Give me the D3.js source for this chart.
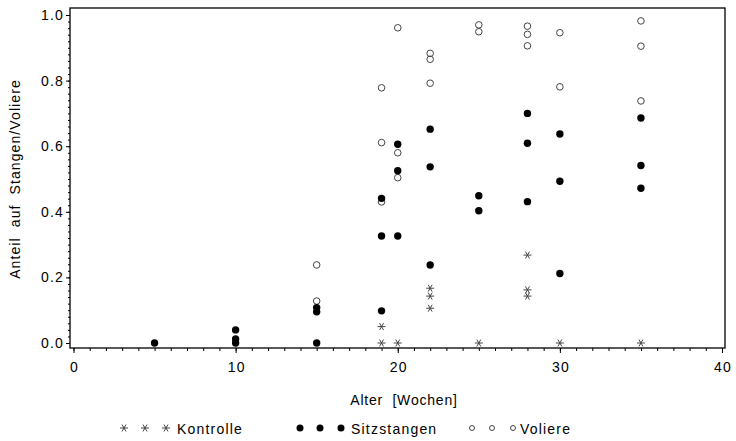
<!DOCTYPE html>
<html>
<head>
<meta charset="utf-8">
<script src="https://cdn.jsdelivr.net/npm/d3@7"></script>
<style>
  body { margin: 0; background: #fff; }
  text { font-family: "Liberation Sans", Arial, sans-serif; fill: #000; letter-spacing: 1.2px; white-space: pre; }
</style>
</head>
<body>
<svg id="vis"></svg>
<script>
const width = 736;
const height = 441;

// data: [Alter, Anteil]
const kontrolle = [
  [19, 0.05], [19, 0.0], [20, 0.0],
  [22, 0.167], [22, 0.143], [22, 0.106],
  [25, 0.0],
  [28, 0.268], [28, 0.162], [28, 0.143],
  [30, 0.0], [35, 0.0]
];
const sitzstangen = [
  [5, 0.0],
  [10, 0.04], [10, 0.012], [10, 0.0],
  [15, 0.108], [15, 0.095], [15, 0.0],
  [19, 0.441], [19, 0.326], [19, 0.098],
  [20, 0.606], [20, 0.525], [20, 0.326],
  [22, 0.652], [22, 0.537], [22, 0.238],
  [25, 0.449], [25, 0.403],
  [28, 0.700], [28, 0.609], [28, 0.431],
  [30, 0.637], [30, 0.493], [30, 0.212],
  [35, 0.686], [35, 0.541], [35, 0.472]
];
const voliere = [
  [15, 0.238], [15, 0.128],
  [19, 0.778], [19, 0.611], [19, 0.43],
  [20, 0.961], [20, 0.58], [20, 0.504],
  [22, 0.883], [22, 0.865], [22, 0.792],
  [25, 0.970], [25, 0.949],
  [28, 0.966], [28, 0.941], [28, 0.906],
  [30, 0.946], [30, 0.781],
  [35, 0.982], [35, 0.905], [35, 0.738]
];
const xTicks = [0, 10, 20, 30, 40];
const yTicks = [0.0, 0.2, 0.4, 0.6, 0.8, 1.0];
const legendLabels = ["Kontrolle", "Sitzstangen", "Voliere"];

const frame = { left: 70, top: 8, right: 725, bottom: 348 };

const svg = d3.select("#vis").attr("width", width).attr("height", height);

const x = d3.scaleLinear().domain([0, 40]).range([73.5, 722]);
const y = d3.scaleLinear().domain([0, 1]).range([343, 15]);

// frame
svg.append("rect")
  .attr("x", frame.left).attr("y", frame.top)
  .attr("width", frame.right - frame.left)
  .attr("height", frame.bottom - frame.top)
  .attr("fill", "none").attr("stroke", "#000").attr("stroke-width", 1.3);

// x axis
const xAxis = svg.append("g").attr("transform", "translate(0," + frame.bottom + ")");
xAxis.call(d3.axisBottom(x).tickValues(d3.range(0, 41, 1)).tickSize(3).tickFormat(""))
  .call(g => g.select(".domain").remove());
xAxis.append("g")
  .call(d3.axisBottom(x).tickValues(xTicks).tickSize(5).tickPadding(9).tickFormat(d3.format("d")))
  .call(g => g.select(".domain").remove())
  .call(g => g.selectAll("text").style("font-size", "14px").attr("dx", "0.6px").attr("fill", "#000"));

// y axis
const yAxis = svg.append("g").attr("transform", "translate(" + frame.left + ",0)");
yAxis.call(d3.axisLeft(y).tickValues(d3.range(0, 51).map(i => i * 0.02)).tickSize(2).tickFormat(""))
  .call(g => g.select(".domain").remove());
yAxis.append("g")
  .call(d3.axisLeft(y).tickValues(yTicks).tickSize(4).tickPadding(2).tickFormat(d3.format(".1f")))
  .call(g => g.select(".domain").remove())
  .call(g => g.selectAll("text").style("font-size", "14px").attr("fill", "#000"));

svg.selectAll(".tick line").attr("stroke", "#000");

// axis labels
svg.append("text")
  .attr("x", 404)
  .attr("y", 405)
  .attr("text-anchor", "middle")
  .style("font-size", "14px")
  .style("letter-spacing", "0.8px")
  .text("Alter  [Wochen]");

svg.append("text")
  .attr("transform", "translate(20," + 179 + ") rotate(-90)")
  .attr("text-anchor", "middle")
  .style("font-size", "14px")
  .style("letter-spacing", "1.1px")
  .text("Anteil  auf  Stangen/Voliere");

// symbols
function drawStar(g, cx, cy, s) {
  g.append("path")
    .attr("d", d3.symbol().type(d3.symbolAsterisk).size(s)())
    .attr("transform", "translate(" + cx + "," + cy + ") rotate(90)")
    .attr("fill", "none").attr("stroke", "#444").attr("stroke-width", 1);
}

const marks = svg.append("g");

voliere.forEach(d => {
  marks.append("circle")
    .attr("cx", x(d[0])).attr("cy", y(d[1])).attr("r", 3.3)
    .attr("fill", "none").attr("stroke", "#444").attr("stroke-width", 1);
});
sitzstangen.forEach(d => {
  marks.append("circle")
    .attr("cx", x(d[0])).attr("cy", y(d[1])).attr("r", 3.7)
    .attr("fill", "#000");
});
kontrolle.forEach(d => drawStar(marks, x(d[0]), y(d[1]), 44));

// legend
const legend = svg.append("g");
const legY = 430;
[124, 145, 166].forEach(cx => drawStar(legend, cx, legY - 2, 44));
[300, 320, 341].forEach(cx => legend.append("circle")
  .attr("cx", cx).attr("cy", legY - 2).attr("r", 3.5).attr("fill", "#000"));
[472, 492, 513].forEach(cx => legend.append("circle")
  .attr("cx", cx).attr("cy", legY - 2).attr("r", 2.5)
  .attr("fill", "none").attr("stroke", "#444").attr("stroke-width", 1));

[[177, legendLabels[0]], [351, legendLabels[1]], [520, legendLabels[2]]].forEach(l => {
  legend.append("text")
    .attr("x", l[0]).attr("y", legY + 4)
    .style("font-size", "14px")
    .text(l[1]);
});
</script>
</body>
</html>
